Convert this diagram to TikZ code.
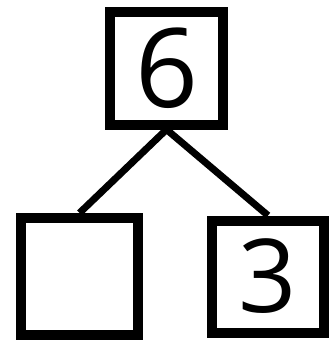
\documentclass[tikz,border=0pt]{standalone}
\usepackage{fontspec}
\setmainfont{Open Sans}
\usepackage{tikz}

\begin{document}
\begin{tikzpicture}[x=1pt, y=-1pt]
    % Box and edge style definitions
    \tikzset{
        numbox/.style={draw=black, line width=10pt, minimum size=#1, inner sep=0pt},
        edge/.style={black, line width=7pt}
    }
    \useasboundingbox (0, 0) rectangle (329, 341);

    % ==========================================
    % TOP NUMBER (whole)
    % ==========================================
    \node[numbox=113pt] (whole) at (166.5, 68) {\fontsize{110}{110}\selectfont 6};

    % ==========================================
    % BOTTOM NUMBERS (parts)
    % ==========================================
    \node[numbox=117pt] (partA) at (79.5, 276.5) {};
    \node[numbox=112pt] (partB) at (268, 276.5) {\fontsize{102}{102}\selectfont 3};

    % Edges from whole to parts
    \draw[edge] (whole.south) -- (partA.north);
    \draw[edge] (whole.south) -- (partB.north);
\end{tikzpicture}
\end{document}
